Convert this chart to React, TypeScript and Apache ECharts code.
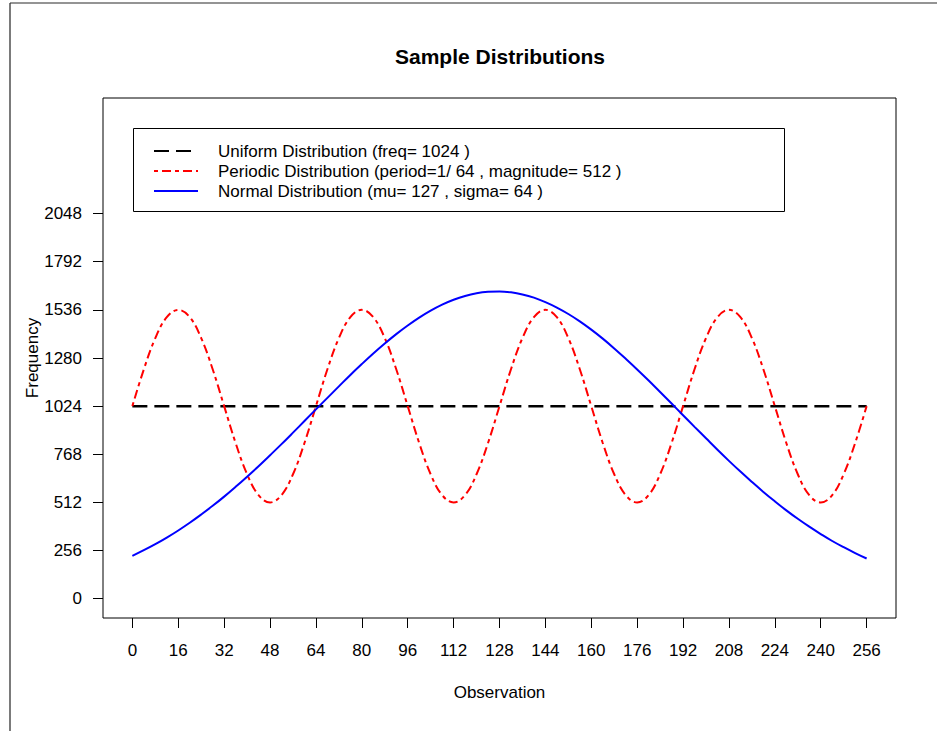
import React, { useEffect, useRef } from "react";
import * as echarts from "echarts";

const TITLE = "Sample Distributions";
const X_NAME = "Observation";
const Y_NAME = "Frequency";

const seriesNames = [
  "Uniform Distribution (freq= 1024 )",
  "Periodic Distribution (period=1/ 64 , magnitude= 512 )",
  "Normal Distribution (mu= 127 , sigma= 64 )",
];

// Observation index of each sampled point
const observations = [
  0, 4, 8, 12, 16, 20, 24, 28, 32, 36, 40, 44, 48, 52, 56, 60,
  64, 68, 72, 76, 80, 84, 88, 92, 96, 100, 104, 108, 112, 116, 120, 124,
  128, 132, 136, 140, 144, 148, 152, 156, 160, 164, 168, 172, 176, 180, 184, 188,
  192, 196, 200, 204, 208, 212, 216, 220, 224, 228, 232, 236, 240, 244, 248, 252,
  256,
];

const uniformValues = [
  1024, 1024, 1024, 1024, 1024, 1024, 1024, 1024, 1024, 1024, 1024, 1024, 1024, 1024, 1024, 1024,
  1024, 1024, 1024, 1024, 1024, 1024, 1024, 1024, 1024, 1024, 1024, 1024, 1024, 1024, 1024, 1024,
  1024, 1024, 1024, 1024, 1024, 1024, 1024, 1024, 1024, 1024, 1024, 1024, 1024, 1024, 1024, 1024,
  1024, 1024, 1024, 1024, 1024, 1024, 1024, 1024, 1024, 1024, 1024, 1024, 1024, 1024, 1024, 1024,
  1024,
];

const periodicValues = [
  1024, 1220, 1386, 1497, 1536, 1497, 1386, 1220, 1024, 828, 662, 551, 512, 551, 662, 828,
  1024, 1220, 1386, 1497, 1536, 1497, 1386, 1220, 1024, 828, 662, 551, 512, 551, 662, 828,
  1024, 1220, 1386, 1497, 1536, 1497, 1386, 1220, 1024, 828, 662, 551, 512, 551, 662, 828,
  1024, 1220, 1386, 1497, 1536, 1497, 1386, 1220, 1024, 828, 662, 551, 512, 551, 662, 828,
  1024,
];

const normalValues = [
  228, 258, 290, 325, 363, 404, 448, 494, 543, 595, 649, 705, 763, 822, 883, 945,
  1007, 1068, 1129, 1190, 1248, 1304, 1357, 1407, 1453, 1495, 1532, 1564, 1590, 1610, 1624, 1632,
  1634, 1629, 1618, 1601, 1577, 1548, 1514, 1475, 1431, 1383, 1331, 1276, 1219, 1160, 1099, 1038,
  976, 914, 853, 792, 733, 676, 621, 568, 518, 470, 425, 383, 344, 307, 274, 243,
  214,
];

const xTicks = [0, 16, 32, 48, 64, 80, 96, 112, 128, 144, 160, 176, 192, 208, 224, 240, 256];
const yTicks = [0, 256, 512, 768, 1024, 1280, 1536, 1792, 2048];

const FONT = "'Liberation Sans', Arial, Helvetica, sans-serif";

function pairs(xs: number[], ys: number[]): number[][] {
  return xs.map((x, i) => [x, ys[i]]);
}

export default function App() {
  const ref = useRef<HTMLDivElement>(null);

  useEffect(() => {
    if (!ref.current) return;
    const chart = echarts.init(ref.current, undefined, { renderer: "svg" });

    const axisCommon = {
      axisLine: { show: false, onZero: false },
      splitLine: { show: false },
      axisTick: {
        show: true,
        inside: false,
        length: 10,
        lineStyle: { color: "#000", width: 1 },
      },
    };

    chart.setOption({
      animation: false,
      backgroundColor: "#fff",
      textStyle: { fontFamily: FONT },
      title: {
        text: TITLE,
        left: 395,
        top: 46,
        padding: 0,
        textStyle: { fontFamily: FONT, fontSize: 21, fontWeight: "bold", color: "#000" },
      },
      grid: {
        left: 103,
        top: 98,
        right: 41,
        bottom: 113,
        show: true,
        borderColor: "#000",
        borderWidth: 1,
        backgroundColor: "transparent",
      },
      legend: {
        orient: "vertical",
        left: 153,
        top: 141,
        padding: 0,
        itemWidth: 44,
        itemHeight: 14,
        itemGap: 0,
        selectedMode: false,
        itemStyle: { color: "transparent", borderWidth: 0, opacity: 0 },
        textStyle: {
          fontFamily: FONT,
          fontSize: 17,
          color: "#000",
          lineHeight: 20,
          padding: [0, 0, 0, 15],
        },
        data: seriesNames,
      },
      xAxis: {
        type: "value",
        min: -10.24,
        max: 266.24,
        name: X_NAME,
        nameLocation: "middle",
        nameGap: 66,
        nameMoveOverlap: false,
        nameTextStyle: { fontFamily: FONT, fontSize: 17, color: "#000" },
        ...axisCommon,
        axisTick: { ...axisCommon.axisTick, customValues: xTicks },
        axisLabel: {
          customValues: xTicks,
          margin: 24,
          fontFamily: FONT,
          fontSize: 17,
          color: "#000",
          formatter: (v: number) => String(v),
        },
      },
      yAxis: {
        type: "value",
        min: -102.4,
        max: 2662.4,
        name: Y_NAME,
        nameLocation: "middle",
        nameGap: 62,
        nameRotate: 90,
        nameMoveOverlap: false,
        nameTextStyle: { fontFamily: FONT, fontSize: 17, color: "#000" },
        ...axisCommon,
        axisTick: { ...axisCommon.axisTick, customValues: yTicks },
        axisLabel: {
          customValues: yTicks,
          margin: 21,
          fontFamily: FONT,
          fontSize: 17,
          color: "#000",
          formatter: (v: number) => String(v),
        },
      },
      graphic: [
        {
          type: "line",
          silent: true,
          shape: { x1: 10, y1: 3, x2: 937, y2: 3 },
          style: { stroke: "#707070", lineWidth: 1.5 },
        },
        {
          type: "line",
          silent: true,
          shape: { x1: 10, y1: 3, x2: 10, y2: 731 },
          style: { stroke: "#333", lineWidth: 1.3 },
        },
        {
          type: "rect",
          silent: true,
          shape: { x: 133.5, y: 128.5, width: 651, height: 83 },
          style: { fill: "none", stroke: "#000", lineWidth: 1 },
        },
      ],
      series: [
        {
          name: seriesNames[0],
          type: "line",
          symbol: "none",
          data: pairs(observations, uniformValues),
          lineStyle: { color: "#000", width: 2.5, type: [15, 7], cap: "butt" },
          itemStyle: { color: "#000" },
        },
        {
          name: seriesNames[1],
          type: "line",
          symbol: "none",
          smooth: 0.4,
          data: pairs(observations, periodicValues),
          lineStyle: { color: "#ff0000", width: 2, type: [4, 4, 9, 4] },
          itemStyle: { color: "#ff0000" },
        },
        {
          name: seriesNames[2],
          type: "line",
          symbol: "none",
          smooth: 0.4,
          data: pairs(observations, normalValues),
          lineStyle: { color: "#0000ff", width: 2 },
          itemStyle: { color: "#0000ff" },
        },
      ],
    });

    return () => chart.dispose();
  }, []);

  return (
    <div
      ref={ref}
      style={{ position: "fixed", left: 0, top: 0, width: 937, height: 731 }}
    />
  );
}
